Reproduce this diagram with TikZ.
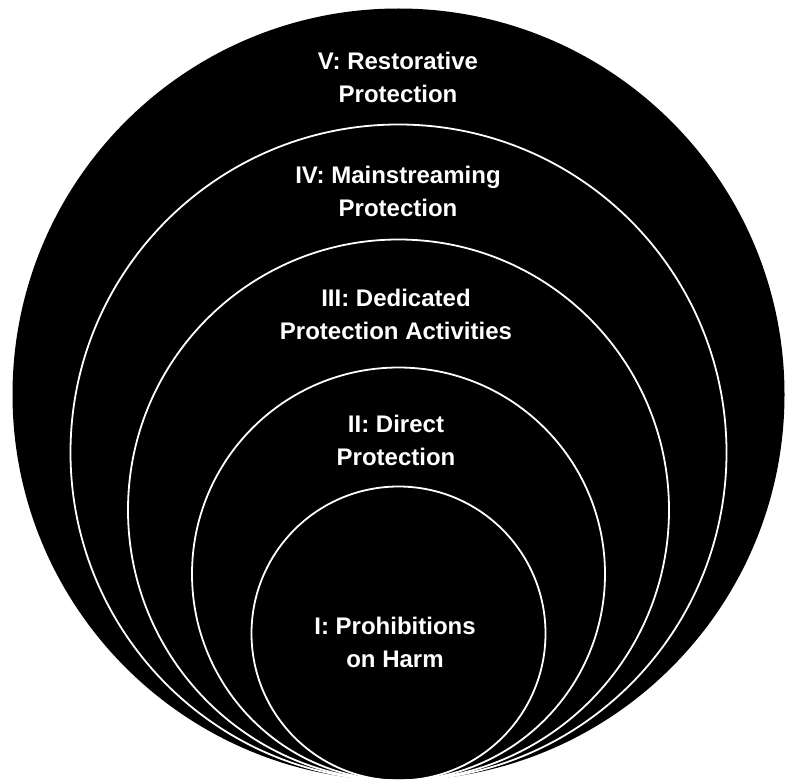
\documentclass[tikz,border=0pt]{standalone}
\usepackage{fontspec}
\setmainfont{Liberation Sans}
\begin{document}
\begin{tikzpicture}[x=1pt,y=-1pt,
  ring/.style={circle, draw=white, line width=1.8pt, inner sep=0pt, minimum size=#1},
  lbl/.style={text=white, font=\fontsize{24}{33}\selectfont\bfseries, align=center, inner sep=0pt}]
\useasboundingbox (0,0) rectangle (787,781);
% outer disc
\fill[black] (398.5,394.5) circle[radius=386];
% nested rings sharing the bottom tangent point
\node[ring=656pt] (ringIV)  at (398.5,452.5) {};
\node[ring=541pt] (ringIII) at (398.5,510)   {};
\node[ring=413pt] (ringII)  at (398.5,574)   {};
\node[ring=294pt] (ringI)   at (398.5,633.5) {};
% labels
\node[lbl] (tV)   at (398,77)  {V: Restorative\\Protection};
\node[lbl] (tIV)  at (398,191) {IV: Mainstreaming\\Protection};
\node[lbl] (tIII) at (396,314) {III: Dedicated\\Protection Activities};
\node[lbl] (tII)  at (396,440) {II: Direct\\Protection};
\node[lbl] (tI)   at (395,642) {I: Prohibitions\\on Harm};
\end{tikzpicture}
\end{document}
